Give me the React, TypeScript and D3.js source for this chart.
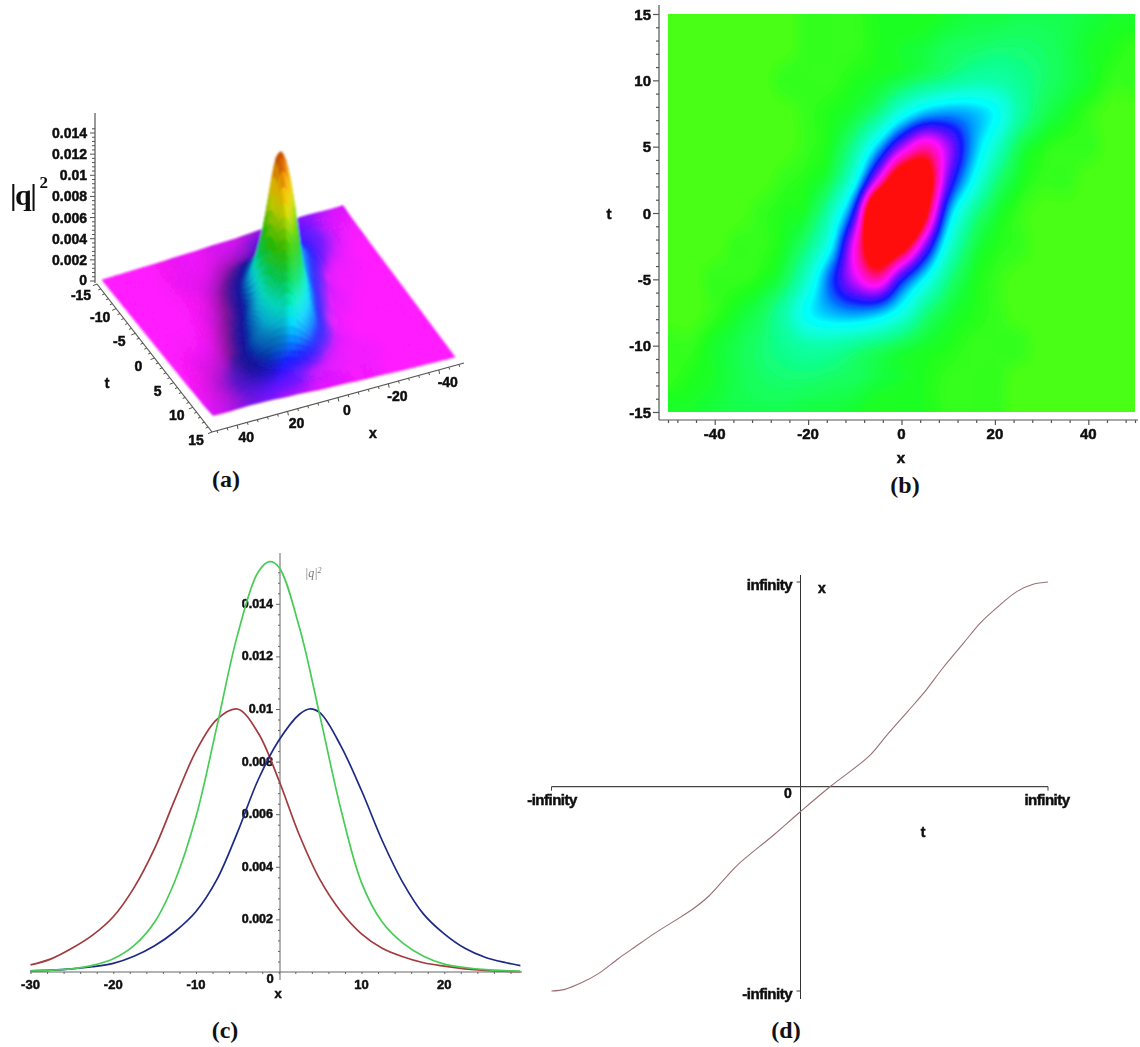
import React, { useRef, useEffect } from "react";
import * as d3 from "d3";

// |q|^2 in units of 1e-4, one row per t, one column per x
const gridX = d3.range(-50, 51, 5);
const gridT = [15, 12.5, 10, 7.5, 5, 2.5, 0, -2.5, -5, -7.5, -10, -12.5, -15];
const heightRows = [
  [0, 0, 0, 0, 0, 0, 1, 1, 1, 2, 2, 2, 3, 4, 4, 5, 5, 5, 4, 3, 3],
  [0, 0, 0, 0, 0, 0, 1, 1, 1, 2, 3, 4, 6, 7, 8, 8, 7, 5, 3, 2, 1],
  [0, 0, 0, 0, 0, 1, 1, 1, 2, 3, 5, 8, 11, 14, 14, 11, 8, 5, 3, 1, 1],
  [0, 0, 0, 0, 0, 0, 1, 2, 4, 10, 24, 35, 38, 35, 28, 14, 6, 3, 1, 0, 0],
  [0, 0, 0, 0, 0, 0, 1, 3, 12, 34, 62, 78, 62, 38, 20, 6, 2, 1, 1, 0, 0],
  [0, 0, 0, 0, 0, 1, 2, 6, 25, 70, 110, 103, 57, 29, 10, 3, 1, 1, 0, 0, 0],
  [0, 0, 0, 0, 1, 2, 4, 17, 52, 130, 153, 96, 38, 13, 4, 1, 0, 0, 0, 0, 0],
  [0, 0, 0, 1, 1, 3, 10, 29, 72, 110, 100, 60, 22, 6, 2, 1, 0, 0, 0, 0, 0],
  [0, 0, 1, 1, 2, 6, 20, 44, 66, 78, 50, 28, 10, 3, 1, 0, 0, 0, 0, 0, 0],
  [0, 0, 1, 3, 6, 14, 28, 35, 38, 35, 24, 10, 4, 2, 1, 0, 0, 0, 0, 0, 0],
  [1, 1, 3, 5, 8, 11, 14, 14, 11, 8, 5, 3, 2, 1, 1, 1, 0, 0, 0, 0, 0],
  [1, 2, 3, 5, 7, 8, 8, 7, 6, 4, 3, 2, 1, 1, 1, 0, 0, 0, 0, 0, 0],
  [3, 3, 4, 5, 5, 5, 4, 4, 3, 2, 2, 2, 1, 1, 1, 0, 0, 0, 0, 0, 0],
];

// colour maps of panels a and b
const surfaceLevels = [0, 1.2, 3, 6, 10, 18, 30, 42, 58, 80, 108, 124, 140, 155];
const surfaceColours = ["#ff14ff", "#d810ff", "#7010ff", "#3010ff", "#1020ff", "#0080ff", "#00d8ff", "#00f0d0", "#00e060", "#30d000", "#d8e000", "#ffc000", "#e06000", "#b03000"];
const heatLevels = [0, 1, 2, 5, 10, 20, 28, 38, 48, 60, 70, 80, 90];
const heatColours = ["#48ff18", "#30ff1c", "#1cff20", "#14ff50", "#10ff90", "#10ffd8", "#00ffff", "#0090ff", "#1414ff", "#9010ff", "#ff10ff", "#ff10a0", "#ff1010"];

// slices of panel c, in units of 1e-4
const redX = [-30, -27.5, -25, -22.5, -20, -17.5, -15, -12.5, -10, -7.5, -5, -2.5, 0, 2.5, 5, 7.5, 10, 12.5, 15, 17.5, 20, 22.5, 25, 29.2];
const redY = [2.7, 5, 9, 14, 21, 32, 47, 66, 84, 96, 100, 91, 73, 52, 35, 23, 14.5, 9, 5.8, 3.5, 2.2, 1.2, 0.6, 0.1];
const greenX = [-30, -27.5, -25, -22.5, -20, -17.5, -15, -12.5, -10, -7.5, -5, -2.5, -1.1, 0, 2.5, 5, 7.5, 10, 12.5, 15, 17.5, 20, 22.5, 25, 29.2];
const greenY = [0.4, 0.7, 1.2, 2.5, 5, 10, 19, 35, 59, 93, 128, 152, 156, 154, 131, 97, 62, 34, 19, 11, 6, 3, 1.7, 0.9, 0.3];
const blueX = [-30, -27.5, -25, -22.5, -20, -17.5, -15, -12.5, -10, -7.5, -5, -2.5, 0, 2.5, 3.7, 5, 7.5, 10, 12.5, 15, 17.5, 20, 22.5, 25, 27.5, 29.2];
const blueY = [0.4, 0.7, 1.2, 2, 3.3, 6, 10, 15.5, 23, 35, 53, 73, 88, 98, 100, 98.5, 86, 69, 50, 34, 22, 14.5, 9, 5.5, 3.5, 2.4];

// curve of panel d, both axes compressed to -1..1 (-infinity..infinity)
const pathT = [-1, -0.946, -0.878, -0.811, -0.731, -0.664, -0.583, -0.503, -0.435, -0.368, -0.301, -0.25, -0.105, 0, 0.123, 0.278, 0.35, 0.437, 0.498, 0.578, 0.659, 0.726, 0.807, 0.874, 0.94, 1];
const pathX = [-1, -0.992, -0.959, -0.915, -0.842, -0.785, -0.717, -0.656, -0.603, -0.538, -0.449, -0.383, -0.237, -0.126, 0, 0.147, 0.25, 0.37, 0.455, 0.582, 0.7, 0.798, 0.888, 0.953, 0.989, 1];

const zTicks = [0, 20, 40, 60, 80, 100, 120, 140];
const panelATTicks = [-15, -10, -5, 0, 5, 10, 15];
const panelAXTicks = [40, 20, 0, -20, -40];

const SANS = "'Liberation Sans', Arial, sans-serif";
const SERIF = "'Liberation Serif', 'Times New Roman', serif";

const catmull = (p0, p1, p2, p3, s) =>
  0.5 * (2 * p1 + (p2 - p0) * s + (2 * p0 - 5 * p1 + 4 * p2 - p3) * s * s + (3 * p1 - p0 - 3 * p2 + p3) * s * s * s);

// smooth reading of the table at any (x, t)
const heightAt = (x, t) => {
  const fx = (Math.max(-50, Math.min(50, x)) + 50) / 5;
  const ft = (15 - Math.max(-15, Math.min(15, t))) / 2.5;
  const ix = Math.min(Math.floor(fx), gridX.length - 2);
  const it = Math.min(Math.floor(ft), gridT.length - 2);
  const cell = (r, c) =>
    heightRows[Math.max(0, Math.min(gridT.length - 1, r))][Math.max(0, Math.min(gridX.length - 1, c))];
  const across = [-1, 0, 1, 2].map((dr) =>
    catmull(cell(it + dr, ix - 1), cell(it + dr, ix), cell(it + dr, ix + 1), cell(it + dr, ix + 2), fx - ix)
  );
  return Math.max(0, catmull(across[0], across[1], across[2], across[3], ft - it));
};

const label = (g, x, y, text, anchor = "middle", size = 13, spacing = 0) =>
  g
    .append("text")
    .attr("x", x)
    .attr("y", y)
    .attr("text-anchor", anchor)
    .attr("dominant-baseline", "central")
    .attr("font-family", SANS)
    .attr("font-weight", "bold")
    .attr("font-size", size)
    .attr("letter-spacing", spacing)
    .attr("fill", "#111")
    .attr("stroke", "#111")
    .attr("stroke-width", 0.5)
    .text(text);

const caption = (svg, x, y, text) =>
  svg
    .append("text")
    .attr("x", x)
    .attr("y", y)
    .attr("text-anchor", "middle")
    .attr("font-family", SERIF)
    .attr("font-weight", "bold")
    .attr("font-size", 24)
    .attr("fill", "#111")
    .text(text);

const seg = (g, x1, y1, x2, y2, stroke = "#444", w = 1) =>
  g
    .append("line")
    .attr("x1", x1)
    .attr("y1", y1)
    .attr("x2", x2)
    .attr("y2", y2)
    .attr("stroke", stroke)
    .attr("stroke-width", w);

const drawSurface = (svg) => {
  const sheet = svg.append("g").attr("filter", "url(#softer)");
  const g = svg.append("g").attr("filter", "url(#soft)");
  const corners = { bl: [102, 280], br: [343, 207], fr: [455, 357], fl: [213, 417] };
  const u = d3.scaleLinear().domain([50, -50]).range([0, 1]);
  const v = d3.scaleLinear().domain([-15, 15]).range([0, 1]);
  const zY = d3.scaleLinear().domain([0, 140]).range([281, 133]);
  const colour = d3.scaleLinear().domain(surfaceLevels).range(surfaceColours).clamp(true);
  const keepDark = d3.scaleLinear().domain([8, 40]).range([1, 0.3]).clamp(true);
  const lift = (z) => 156 * Math.pow(z / 156, 1.2);

  const project = (x, t) => {
    const a = u(x);
    const b = v(t);
    const px =
      (1 - a) * (1 - b) * corners.bl[0] + a * (1 - b) * corners.br[0] + a * b * corners.fr[0] + (1 - a) * b * corners.fl[0];
    const py =
      (1 - a) * (1 - b) * corners.bl[1] + a * (1 - b) * corners.br[1] + a * b * corners.fr[1] + (1 - a) * b * corners.fl[1];
    return [px, py - (zY(0) - zY(lift(heightAt(x, t))))];
  };

  const dx = 1;
  const dt = 0.5;
  const quads = [];
  d3.range(-15, 15, dt).forEach((t) => {
    d3.range(-50, 50, dx).forEach((x) => {
      const cx = x + dx / 2;
      const ct = t + dt / 2;
      const h = d3.mean([-1, 0, 1], (o) => lift(heightAt(cx, ct + o)));
      // slope along x, averaged over neighbouring t so table rows do not show
      const a = d3.mean([-3, -1.5, 0, 1.5, 3], (o) => (heightAt(cx + 6, ct + o) - heightAt(cx - 6, ct + o)) / 12);
      // faces turned left on screen go dark
      const slope = 1.057 * -0.339 * a;
      const base = colour(h);
      const fill =
        slope > 0
          ? d3.interpolateRgb(base, "#000")(Math.min(0.4, 1 - 1 / (1 + 1.6 * slope)) * keepDark(h))
          : d3.interpolateRgb(base, "#fff")(Math.min(0.1, -0.12 * slope));
      quads.push({ pts: [project(x, t), project(x + dx, t), project(x + dx, t + dt), project(x, t + dt)], fill });
    });
  });

  sheet
    .selectAll("path.q")
    .data(quads)
    .enter()
    .append("path")
    .attr("class", "q")
    .attr("d", (d) => d3.line()(d.pts) + "Z")
    .attr("fill", (d) => d.fill)
    .attr("stroke", (d) => d.fill)
    .attr("stroke-width", 0.6);

  // axes
  seg(g, 95, 113, 95, 283, "#555", 1.2);
  d3.range(0, 145, 4).forEach((z) => seg(g, z % 20 === 0 ? 90 : 92, zY(z), 95, zY(z), "#555", 1));
  zTicks.forEach((z) => label(g, 87, z === 0 ? 280 : zY(z), z === 0 ? "0" : d3.format(".3~f")(z / 1e4), "end", 14));

  const tAxisX = d3.scaleLinear().domain([-15, 15]).range([97, 212]);
  const tAxisY = d3.scaleLinear().domain([-15, 15]).range([284, 432]);
  seg(g, tAxisX(-15), tAxisY(-15), tAxisX(15), tAxisY(15), "#555", 1.2);
  d3.range(-15, 16, 1).forEach((t) => {
    const major = t % 5 === 0;
    seg(g, tAxisX(t), tAxisY(t), tAxisX(t) - (major ? 4 : 2.5), tAxisY(t) + (major ? 1.6 : 1), "#4a5a3a", 1);
  });
  panelATTicks.forEach((t) => label(g, tAxisX(t) - 16, tAxisY(t) + (t === -15 ? 11 : 8), String(t), "middle", 14));
  label(g, 107, 383, "t", "middle", 14);

  const xAxisX = d3.scaleLinear().domain([50, -50]).range([212, 464]);
  const xAxisY = d3.scaleLinear().domain([50, -50]).range([432, 363]);
  seg(g, xAxisX(50), xAxisY(50), xAxisX(-50), xAxisY(-50), "#555", 1.2);
  d3.range(-48, 49, 4).forEach((x) => {
    const major = x % 20 === 0;
    seg(g, xAxisX(x), xAxisY(x), xAxisX(x) + 0.8, xAxisY(x) + (major ? 4 : 2.5), "#4a5a3a", 1);
  });
  panelAXTicks.forEach((x) => label(g, xAxisX(x) + 9, xAxisY(x) + 12, String(x), "middle", 14));
  label(g, 373, 433, "x", "middle", 14);

  const q = g
    .append("text")
    .attr("x", 10)
    .attr("y", 205)
    .attr("font-family", SERIF)
    .attr("font-weight", "bold")
    .attr("font-size", 30)
    .attr("letter-spacing", -1.5)
    .attr("fill", "#111")
    .text("|q|");
  q.append("tspan").attr("dy", -17).attr("dx", 4).attr("font-size", 17).text("2");

  caption(svg, 226, 487, "(a)");
};

const drawHeat = (svg) => {
  const g = svg.append("g").attr("filter", "url(#soft)");
  const x = d3.scaleLinear().domain([-50, 50]).range([668, 1135]);
  const y = d3.scaleLinear().domain([-15, 15]).range([412, 14]);
  const colour = d3.scaleLinear().domain(heatLevels).range(heatColours).clamp(true);

  const nx = 234;
  const ny = 199;
  const values = new Float64Array(nx * ny);
  for (let j = 0; j < ny; j++) {
    for (let i = 0; i < nx; i++) {
      values[j * nx + i] = heightAt(x.invert(668 + ((i + 0.5) * 467) / nx), y.invert(14 + ((j + 0.5) * 398) / ny));
    }
  }
  const thresholds = [...d3.range(0.25, 6, 0.25), ...d3.range(6, 92, 1)];
  const bands = d3.contours().size([nx, ny]).thresholds(thresholds)(values);
  const plot = g.append("g").attr("transform", `translate(668,14) scale(${467 / nx},${398 / ny})`);
  plot.append("rect").attr("width", nx).attr("height", ny).attr("fill", colour(0));
  plot
    .selectAll("path")
    .data(bands)
    .enter()
    .append("path")
    .attr("d", d3.geoPath())
    .attr("fill", (d) => colour(d.value));

  // left axis and bottom axis sit a little off the plot
  const left = g.append("g").attr("transform", "translate(659,0)");
  left.call(d3.axisLeft(y).tickValues(d3.range(-15, 16, 1)).tickFormat("").tickSize(3).tickSizeOuter(0));
  left.select(".domain").attr("d", "M0,5V420");
  left.selectAll(".tick line").filter((d) => d % 5 === 0).attr("x2", -6);
  d3.range(-15, 16, 5).forEach((t) => label(g, 651, y(t), String(t), "end", 15));
  label(g, 609, 213, "t", "middle", 15);

  const bottom = g.append("g").attr("transform", "translate(0,420)");
  bottom.call(d3.axisBottom(x).tickValues(d3.range(-48, 49, 4).concat([-50, 50])).tickFormat("").tickSize(3).tickSizeOuter(0));
  bottom.select(".domain").attr("d", "M659,0H1138");
  bottom.selectAll(".tick line").filter((d) => d % 20 === 0).attr("y2", 5);
  d3.range(-40, 41, 20).forEach((v) => label(g, x(v), 433, String(v), "middle", 15));
  label(g, 901, 457, "x", "middle", 15);
  g.selectAll(".domain, .tick line").attr("stroke", "#555").attr("stroke-width", 1.2);

  caption(svg, 905, 493, "(b)");
};

const drawSlices = (svg) => {
  const g = svg.append("g").attr("filter", "url(#soft)");
  const x = d3.scaleLinear().domain([-30, 30]).range([30.5, 527]);
  const y = d3.scaleLinear().domain([0, 100]).range([972, 709]);

  const bottom = g.append("g").attr("transform", "translate(0,972)");
  bottom.call(d3.axisBottom(x).tickValues(d3.range(-30, 30, 2)).tickFormat("").tickSize(2).tickSizeOuter(0));
  bottom.select(".domain").attr("d", "M30,0H522");
  d3.range(-30, 21, 10)
    .filter((v) => v !== 0)
    .forEach((v) => label(g, x(v), 984, String(v)));
  label(g, 270, 978, "0");
  label(g, 278, 993, "x");

  const left = g.append("g").attr("transform", "translate(280,0)");
  left.call(d3.axisLeft(y).tickValues(d3.range(4, 156, 4)).tickFormat("").tickSize(2).tickSizeOuter(0));
  left.select(".domain").attr("d", "M0,553V980");
  left.selectAll(".tick line").filter((d) => d % 20 === 0).attr("x2", -4);
  [20, 40, 60, 80, 100, 120, 140].forEach((v) => label(g, 273, y(v), d3.format(".3~f")(v / 1e4), "end", 12.5));
  g.selectAll(".domain, .tick line").attr("stroke", "#666").attr("stroke-width", 1);

  const line = d3
    .line()
    .x((d) => x(d[0]))
    .y((d) => y(d[1]))
    .curve(d3.curveCatmullRom.alpha(0.5));
  [
    { xs: redX, ys: redY, stroke: "#a23a3e" },
    { xs: blueX, ys: blueY, stroke: "#1d2a85" },
    { xs: greenX, ys: greenY, stroke: "#46cc55" },
  ].forEach((s) =>
    g
      .append("path")
      .datum(d3.zip(s.xs, s.ys))
      .attr("fill", "none")
      .attr("stroke", s.stroke)
      .attr("stroke-width", 1.7)
      .attr("d", line)
  );

  g.append("text")
    .attr("x", 305)
    .attr("y", 577)
    .attr("font-family", SERIF)
    .attr("font-style", "italic")
    .attr("font-size", 12)
    .attr("fill", "#777")
    .text("|q|")
    .append("tspan")
    .attr("dy", -4)
    .attr("font-size", 8)
    .text("2");

  caption(svg, 225, 1038, "(c)");
};

const drawPath = (svg) => {
  const g = svg.append("g").attr("filter", "url(#soft)");
  const x = d3.scaleLinear().domain([-1, 1]).range([551.5, 1048]);
  const y = d3.scaleLinear().domain([-1, 1]).range([991, 582]);
  const zeroX = 800.5;
  const zeroY = y(0) + 0.2;

  seg(g, zeroX, 575, zeroX, 999, "#333", 1);
  seg(g, x(-1), zeroY, x(1), zeroY, "#444", 1.2);
  seg(g, x(-1), zeroY, x(-1), zeroY + 4, "#444", 1);
  seg(g, x(1), zeroY, x(1), zeroY + 4, "#444", 1);
  seg(g, zeroX - 4, y(1), zeroX, y(1), "#444", 1);
  seg(g, zeroX - 4, y(-1), zeroX, y(-1), "#444", 1);

  label(g, 792, 584, "infinity", "end", 15, -0.5);
  label(g, 792, 993, "-infinity", "end", 15, -0.5);
  label(g, 552, 799, "-infinity", "middle", 15, -0.5);
  label(g, 1047, 799, "infinity", "middle", 15, -0.5);
  label(g, 788, 793, "0", "middle", 14);
  label(g, 822, 588, "x", "middle", 14);
  label(g, 923, 832, "t", "middle", 14);

  g.append("path")
    .datum(d3.zip(pathT, pathX))
    .attr("fill", "none")
    .attr("stroke", "#9a6f74")
    .attr("stroke-width", 1.1)
    .attr(
      "d",
      d3
        .line()
        .x((d) => x(d[0]))
        .y((d) => y(d[1]))
        .curve(d3.curveCatmullRom.alpha(0.5))
    );

  caption(svg, 786, 1038, "(d)");
};

const App = () => {
  const svgRef = useRef(null);

  useEffect(() => {
    const svg = d3.select(svgRef.current);
    svg.selectAll("*").remove();
    svg.attr("width", 1140).attr("height", 1047);
    const defs = svg.append("defs");
    [
      { id: "soft", blur: 0.45 },
      { id: "softer", blur: 0.8 },
    ].forEach((f) =>
      defs
        .append("filter")
        .attr("id", f.id)
        .attr("filterUnits", "userSpaceOnUse")
        .attr("x", 0)
        .attr("y", 0)
        .attr("width", 1140)
        .attr("height", 1047)
        .append("feGaussianBlur")
        .attr("stdDeviation", f.blur)
    );
    svg.append("rect").attr("width", 1140).attr("height", 1047).attr("fill", "#fff");

    drawSurface(svg);
    drawHeat(svg);
    drawSlices(svg);
    drawPath(svg);
  }, []);

  return <svg ref={svgRef} style={{ position: "absolute", left: 0, top: 0, display: "block" }} />;
};

export default App;
